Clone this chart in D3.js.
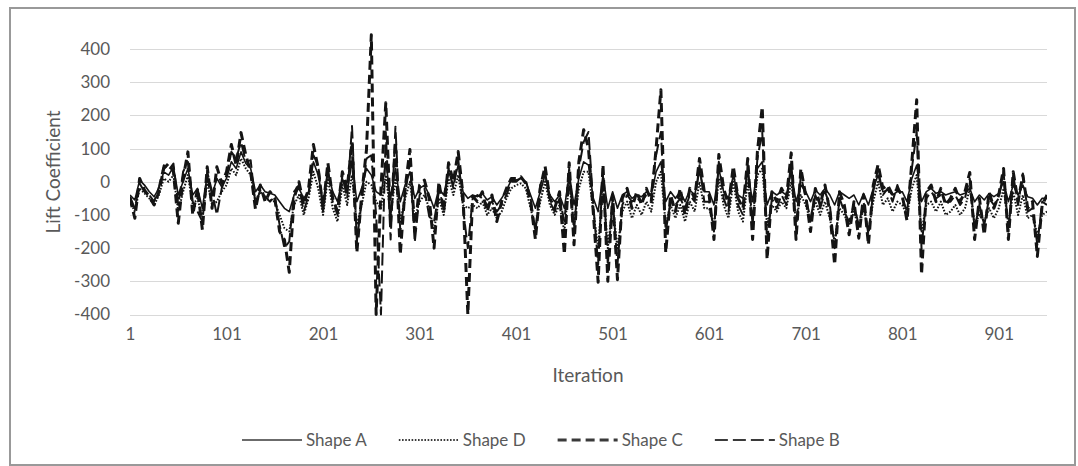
<!DOCTYPE html>
<meta charset="utf-8">
<style>

body {
  margin: 0;
  background: #fff;
}

text {
  font-family: Lato, "Open Sans", sans-serif;
  fill: #595959;
}

.grid line {
  stroke: #d9d9d9;
  stroke-width: 1px;
  shape-rendering: crispEdges;
}

.series {
  fill: none;
  stroke: #141414;
}

</style>
<body>
<script src="https://d3js.org/d3.v7.min.js"></script>
<div id="draw"></div>
<script>

// every 5th iteration
var iterations = d3.range(1, 952, 5);

var yTicks = [-400, -300, -200, -100, 0, 100, 200, 300, 400];
var xTicks = [1, 101, 201, 301, 401, 501, 601, 701, 801, 901];

var shapeA = [
  -40, -55, 5, -10, -30, -45, -20, 30, 20, 45,
  -40, 0, 40, -40, -20, -80, 20, -40, 10, -15,
  10, 60, 40, 90, 55, 40, -30, -10, -30, -35,
  -40, -60, -80, -90, -40, -20, -50, -30, 60, 20,
  -60, 30, -30, -60, 10, -30, 60, -60, -20, 40,
  20, -30, -40, 60, -50, 40, -60, -10, 30, -50,
  -20, -10, -40, -80, -20, -40, 30, -10, 50, -30,
  -50, -40, -45, -35, -55, -45, -70, -50, -25, 5,
  5, 10, 0, -40, -80, -30, 20, -40, -60, -40,
  -80, 20, -70, 10, 60, 50, -50, -90, 20, -80,
  -30, -80, -40, -30, -50, -40, -45, -30, -40, 30,
  60, -60, -30, -50, -30, -60, -25, -40, 30, -30,
  -30, -70, 40, -30, -50, 20, -40, -50, 30, -60,
  40, 60, -70, -30, -40, -30, -40, 30, -60, -10,
  -30, -60, -25, -40, -20, -40, -70, -30, -40, -50,
  -40, -70, -35, -70, -20, 20, -30, -25, -40, -30,
  -30, -60, 10, 50, -60, -30, -20, -35, -30, -40,
  -35, -30, -40, -35, -20, -60, -40, -55, -35, -45,
  -35, 0, -60, -10, -40, -10, -45, -50, -70, -50,
  -50
];

var shapeD = [
  -60, -90, -20, -35, -50, -70, -40, 10, 0, 20,
  -90, -30, 20, -70, -50, -110, 0, -70, -60, -30,
  -10, 40, 20, 70, 40, 20, -60, -30, -50, -55,
  -60, -100, -140, -150, -70, -40, -100, -50, 30, -20,
  -100, 10, -80, -120, -10, -70, 20, -130, -70, 0,
  -10, -60, -80, 20, -100, 10, -120, -50, 0, -110,
  -60, -40, -80, -150, -50, -100, 10, -40, 20, -70,
  -80, -70, -80, -60, -100, -80, -110, -90, -50, -20,
  -10, -5, -20, -80, -140, -60, 0, -70, -100, -70,
  -150, 0, -130, -20, 30, 30, -90, -200, 0, -200,
  -70, -200, -90, -60, -110, -70, -100, -60, -90, 0,
  30, -130, -70, -110, -70, -120, -60, -90, 0, -80,
  -80, -130, 10, -70, -110, 0, -90, -120, 0, -120,
  20, 40, -130, -70, -90, -60, -80, 0, -120, -40,
  -70, -120, -60, -100, -60, -110, -180, -80, -100, -130,
  -90, -140, -80, -150, -60, 0, -70, -50, -90, -60,
  -70, -100, -20, 20, -150, -70, -60, -90, -60, -100,
  -90, -70, -100, -80, -20, -130, -100, -120, -80, -110,
  -80, -20, -130, -30, -100, -40, -110, -100, -160, -100,
  -90
];

var shapeC = [
  -50, -110, 10, -25, -45, -70, -30, 40, 55, 30,
  -125, 10, 90, -100, -20, -145, 45, -80, 45, -5,
  30, 112, 50, 148, 80, 30, -83, -10, -60, -30,
  -50, -150, -175, -273, -50, 0, -70, -20, 112, 40,
  -80, 57, -50, -90, 30, -20, 120, -214, -40, 97,
  443, -400, -20, 238, -120, 120, -219, -20, 97, -150,
  -10, 5, -50, -200, 0, -90, 57, 0, 91, -40,
  -400, -44, -60, -30, -90, -40, -120, -60, -20, 10,
  10, 15, -5, -60, -174, -20, 47, -50, -80, -30,
  -219, 57, -190, 60, 157, 100, -94, -303, 52, -300,
  -40, -295, -50, -20, -80, -30, -70, -20, -60, 100,
  277, -214, -40, -90, -20, -100, -20, -50, 70, -30,
  -40, -174, 82, -20, -70, 47, -50, -80, 70, -174,
  92, 226, -234, -30, -60, -20, -50, 87, -174, 40,
  -40, -150, -20, -70, -10, -90, -250, -30, -70, -160,
  -60, -170, -40, -190, -10, 52, -20, -10, -40, -20,
  -40, -118, 60, 247, -279, -30, -10, -60, -20, -70,
  -50, -20, -60, -30, 28, -174, -50, -160, -30, -80,
  -40, 40, -174, 30, -60, 20, -80, -60, -225, -70,
  -40
];

var shapeB = [
  -45, -80, -5, -30, -40, -60, -15, 50, 35, 55,
  -70, 30, 60, -60, -90, -120, 30, -30, -100, -20,
  20, 90, 70, 120, 60, 65, -70, -25, -45, -60,
  -45, -130, -200, -180, -30, -10, -90, -40, 80, 50,
  -90, 40, -60, -100, 20, -50, 168, -180, -60, 70,
  80, -100, -400, 150, -174, 166, -150, -40, 60, -183,
  -40, -20, -105, -120, -30, -70, 40, -20, 70, -80,
  -200, -50, -40, -50, -70, -60, -90, -70, -40, 0,
  0, 12, 5, -50, -150, -10, 30, -60, -90, -50,
  -120, 40, -150, 40, 120, 150, -70, -250, 40, -250,
  -50, -250, -70, -40, -60, -50, -60, -40, -30, 80,
  150, -150, -60, -70, -50, -80, -40, -60, 50, -60,
  -60, -150, 60, -50, -90, 30, -70, -100, 50, -130,
  70, 150, -180, -50, -80, -40, -70, 60, -140, 20,
  -50, -110, -40, -80, -30, -70, -200, -50, -90, -120,
  -70, -130, -60, -160, -30, 40, -40, -20, -60, -10,
  -50, -90, 40, 150, -200, -50, -30, -50, -40, -60,
  -60, -40, -70, -50, 10, -140, -70, -130, -50, -70,
  -50, 30, -150, 20, -70, 25, -90, -80, -190, -60,
  -70
];

// legend order: A, D, C, B
var series = [
  {name: "Shape A", values: shapeA, width: 1.6, dash: null},
  {name: "Shape D", values: shapeD, width: 2, dash: "1.6,1.6"},
  {name: "Shape C", values: shapeC, width: 3, dash: "9,5"},
  {name: "Shape B", values: shapeB, width: 2, dash: "13,5"}
];

var W = 1078, H = 466;
var plot = {left: 130, right: 1047, top: 49, bottom: 314.5};

var svg = d3.select("#draw").append("svg")
    .attr("width", W)
    .attr("height", H);

// outer frame
svg.append("rect")
    .attr("x", 10)
    .attr("y", 8)
    .attr("width", 1065)
    .attr("height", 457)
    .attr("fill", "#fff")
    .attr("stroke", "#999")
    .attr("stroke-width", 2);

var x = d3.scaleLinear()
    .domain([1, 951])
    .range([plot.left, plot.right]);

var y = d3.scaleLinear()
    .domain([-400, 400])
    .range([plot.bottom, plot.top]);

// gridlines
svg.append("g")
    .attr("class", "grid")
  .selectAll("line")
    .data(yTicks)
  .enter().append("line")
    .attr("x1", plot.left)
    .attr("x2", plot.right)
    .attr("y1", function(d) { return Math.round(y(d)) + 0.5; })
    .attr("y2", function(d) { return Math.round(y(d)) + 0.5; });

// y axis labels (plain hyphen for negatives, like the original)
var yAxis = d3.axisLeft(y)
    .tickValues(yTicks)
    .tickFormat(function(d) { return String(d); })
    .tickSize(0)
    .tickPadding(0);
var gy = svg.append("g")
    .attr("transform", "translate(110,0)")
    .call(yAxis);
gy.select(".domain").remove();
gy.selectAll("text")
    .style("font-size", "17px")
    .attr("fill", "#595959");

// x axis labels
var xAxis = d3.axisBottom(x)
    .tickValues(xTicks)
    .tickFormat(function(d) { return String(d); })
    .tickSize(0)
    .tickPadding(0);
var gx = svg.append("g")
    .attr("transform", "translate(0,328)")
    .call(xAxis);
gx.select(".domain").remove();
gx.selectAll("text")
    .style("font-size", "17px")
    .attr("fill", "#595959");

svg.append("text")
    .attr("transform", "translate(60,172) rotate(-90)")
    .attr("text-anchor", "middle")
    .style("font-size", "19px")
    .text("Lift Coefficient");

svg.append("text")
    .attr("x", 588)
    .attr("y", 382)
    .attr("text-anchor", "middle")
    .style("font-size", "19px")
    .text("Iteration");

// lines: clipped at the bottom at -400, the top spike may poke above 400
svg.append("clipPath")
    .attr("id", "clip")
  .append("rect")
    .attr("x", plot.left)
    .attr("y", plot.top - 20)
    .attr("width", plot.right - plot.left)
    .attr("height", plot.bottom - plot.top + 22);

var line = d3.line()
    .x(function(d, i) { return x(iterations[i]); })
    .y(function(d) { return y(d); });

svg.append("g")
    .attr("clip-path", "url(#clip)")
  .selectAll(".series")
    .data(series)
  .enter().append("path")
    .attr("class", "series")
    .attr("d", function(d) { return line(d.values); })
    .attr("stroke-width", function(d) { return d.width; })
    .attr("stroke-dasharray", function(d) { return d.dash; })
    .attr("stroke-linejoin", "round");

// legend
var legend = svg.append("g")
    .attr("transform", "translate(242,440)");

var lx = 0;
series.forEach(function(s) {
  var g = legend.append("g").attr("transform", "translate(" + lx + ",0)");
  g.append("line")
      .attr("x1", 0)
      .attr("x2", 60)
      .attr("y1", 0)
      .attr("y2", 0)
      .attr("stroke", "#3a3a3a")
      .attr("stroke-width", s.width)
      .attr("stroke-dasharray", s.dash);
  var t = g.append("text")
      .attr("x", 64)
      .attr("y", 6)
      .style("font-size", "17px")
      .text(s.name);
  lx += 64 + t.node().getComputedTextLength() + 32;
});

</script>
